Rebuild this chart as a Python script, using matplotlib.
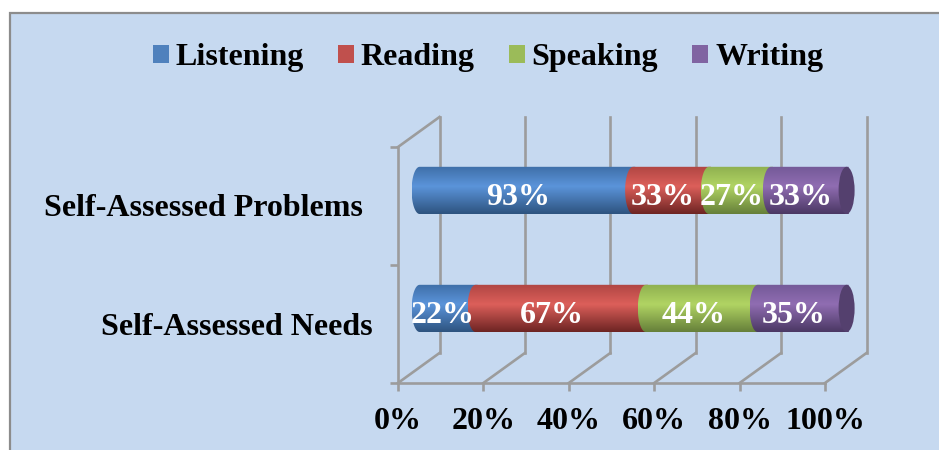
import numpy as np
import matplotlib
matplotlib.use('Agg')
import matplotlib.pyplot as plt
from matplotlib.colors import LinearSegmentedColormap
from matplotlib.patches import Patch, PathPatch, Rectangle, Ellipse
from matplotlib.path import Path

categories = ['Self-Assessed Needs', 'Self-Assessed Problems']
skills = ['Listening', 'Reading', 'Speaking', 'Writing']
listening = [22, 93]
reading = [67, 33]
speaking = [44, 27]
writing = [35, 33]
xticks = [0, 20, 40, 60, 80, 100]
xticklabels = ['0%', '20%', '40%', '60%', '80%', '100%']

legend_colors = ['#4f81bd', '#c0504d', '#9bbb59', '#8064a2']
# top, highlight, bottom of each cylinder
shades = [['#3f6fa8', '#5b94da', '#2e5480'],
          ['#b04643', '#dc5f5a', '#6e2523'],
          ['#8fb050', '#b1d463', '#66803a'],
          ['#745a98', '#906db2', '#4b3864']]
cap_color = '#54406e'
grid_color = '#9c9c9c'
bg_color = '#c6d9f0'

PX_X = 4.27   # pixels per percent
PX_Y = 118.0  # pixels per category
DX, DY = 41.5 / PX_X, 30 / PX_Y  # depth of the 3D box
CAP = 8 / PX_X
BAR_H = 0.2

plt.rcParams['font.family'] = ['Liberation Serif']
plt.rcParams['font.weight'] = 'bold'

fig = plt.figure(figsize=(9.39, 4.5), dpi=100)
fig.patch.set_facecolor('white')
fig.add_artist(Rectangle((10 / 939, -0.05), 1.0, (450 - 13) / 450 + 0.05,
                         transform=fig.transFigure, facecolor=bg_color,
                         edgecolor='#8c8c8c', linewidth=1.6, zorder=-5))

ax = fig.add_axes([0, 0, 1, 1])
ax.patch.set_visible(False)
ax.set_xlim(-398 / PX_X, (939 - 398) / PX_X)
ax.set_ylim(-67 / PX_Y, 383 / PX_Y)
for name, s in ax.spines.items():
    s.set_visible(False)
ax.spines['bottom'].set_position(('data', 0))
ax.spines['left'].set_position(('data', 0))

# walls and floor of the box
for x in xticks:
    ax.plot([x + DX, x + DX], [DY, 2 + DY], color=grid_color, lw=1.9, zorder=1)
    ax.plot([x, x + DX], [0, DY], color=grid_color, lw=1.9, zorder=1)
ax.plot([0, 0], [0, 2], color=grid_color, lw=1.9, zorder=1)
ax.plot([0, 100], [0, 0], color=grid_color, lw=1.9, zorder=1)
ax.plot([0, DX], [2, 2 + DY], color=grid_color, lw=1.9, zorder=1)

ax.set_xticks(xticks)
ax.set_xticklabels(xticklabels, fontsize=23, fontweight='bold')
ax.set_yticks([0, 1, 2])
ax.set_yticklabels([])
ax.tick_params(axis='both', color=grid_color, width=1.9, length=6)
ax.tick_params(axis='x', pad=11)


def draw_segment(left, right, yc, shade, z):
    # left end bulges over the previous segment
    t = np.linspace(np.pi / 2, 3 * np.pi / 2, 40)
    xs = list(left + CAP * np.cos(t)) + [right, right]
    ys = list(yc + BAR_H * np.sin(t)) + [yc - BAR_H, yc + BAR_H]
    path = Path(np.column_stack([xs + [xs[0]], ys + [ys[0]]]), closed=True)
    cmap = LinearSegmentedColormap.from_list('cyl', [(0, shade[0]), (0.42, shade[1]), (1, shade[2])])
    im = ax.imshow(np.linspace(0, 1, 64).reshape(-1, 1), cmap=cmap, aspect='auto',
                   extent=[left - CAP, right, yc - BAR_H, yc + BAR_H], origin='upper',
                   interpolation='bilinear', zorder=z)
    im.set_clip_path(PathPatch(path, transform=ax.transData))


series = [listening, reading, speaking, writing]
for i, cat in enumerate(categories):
    vals = np.array([s[i] for s in series], dtype=float)
    pct = vals / vals.sum() * 100
    left = 0.0
    yc = i + 0.5 + DY / 2 + 0.005
    x0 = DX / 2 + 0.2
    for j in range(4):
        draw_segment(x0 + left, x0 + left + pct[j] + 0.5, yc, shades[j], 3 + j)
        # keep the narrow first label from sticking out of the bar end
        tx = max(left + pct[j] / 2 + DX * 0.3 + 0.2, 10.5)
        ty = i + 0.5 + DY * 0.27
        ax.text(tx, ty, '%d%%' % vals[j], color='white', fontsize=23, fontweight='bold',
                ha='center', va='center', zorder=10)
        left += pct[j]
    ax.add_patch(Ellipse((x0 + 100, yc), 2 * CAP, 2 * BAR_H, facecolor=cap_color,
                         edgecolor='none', zorder=8))

# category names sit left of the box
ax.text(-6, 0.473, categories[0], fontsize=23, fontweight='bold', ha='right', va='center')
ax.text(-6 - 10 / PX_X, 1.477, categories[1], fontsize=23, fontweight='bold', ha='right', va='center')

ax.set_xlim(-398 / PX_X, (939 - 398) / PX_X)
ax.set_ylim(-67 / PX_Y, 383 / PX_Y)

handles = [Patch(facecolor=c, edgecolor='none', label=n) for c, n in zip(legend_colors, skills)]
fig.legend(handles=handles, loc='center', bbox_to_anchor=(488 / 939, 1 - 58 / 450), ncol=4,
           frameon=False, handlelength=0.5, handleheight=0.5,
           handletextpad=0.22, columnspacing=1.06, borderpad=0,
           prop={'family': 'Liberation Serif', 'weight': 'bold', 'size': 23})

fig.savefig('out.png', dpi=100, facecolor='white')
